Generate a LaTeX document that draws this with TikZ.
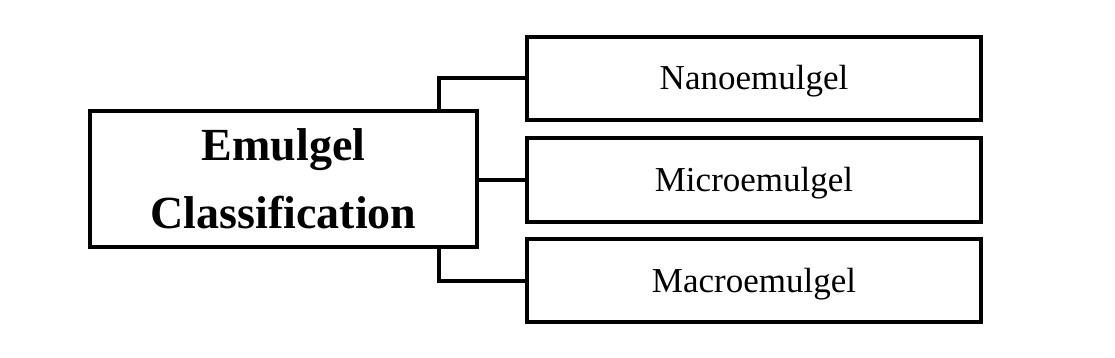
\documentclass[tikz,border=0pt]{standalone}
\usepackage{fontspec}
\setmainfont{Liberation Serif}
\begin{document}
\begin{tikzpicture}[x=1pt,y=-1pt,
  box/.style={draw=black, line width=4pt, outer sep=0pt, inner sep=0pt, rectangle},
  mainbox/.style={box, minimum width=387pt, minimum height=135pt, align=center,
    font=\fontsize{46}{68}\selectfont\bfseries},
  subbox/.style={box, minimum width=454pt, minimum height=83pt,
    text height=23pt, text depth=0pt,
    font=\fontsize{35}{40}\selectfont},
  link/.style={draw=black, line width=4pt}]
\useasboundingbox (0,0) rectangle (1115,358);
\node[mainbox] (main) at (283.5,179) {Emulgel\\Classification};
\node[subbox] (n1) at (754,78.5) {Nanoemulgel};
\node[subbox] (n2) at (754,180) {Microemulgel};
\node[subbox] (n3) at (754,280.5) {Macroemulgel};
\draw[link] ([xshift=-38pt]main.north east) |- (n1.west);
\draw[link] (main.east |- n2.west) -- (n2.west);
\draw[link] ([xshift=-38pt]main.south east) |- (n3.west);
\end{tikzpicture}
\end{document}
